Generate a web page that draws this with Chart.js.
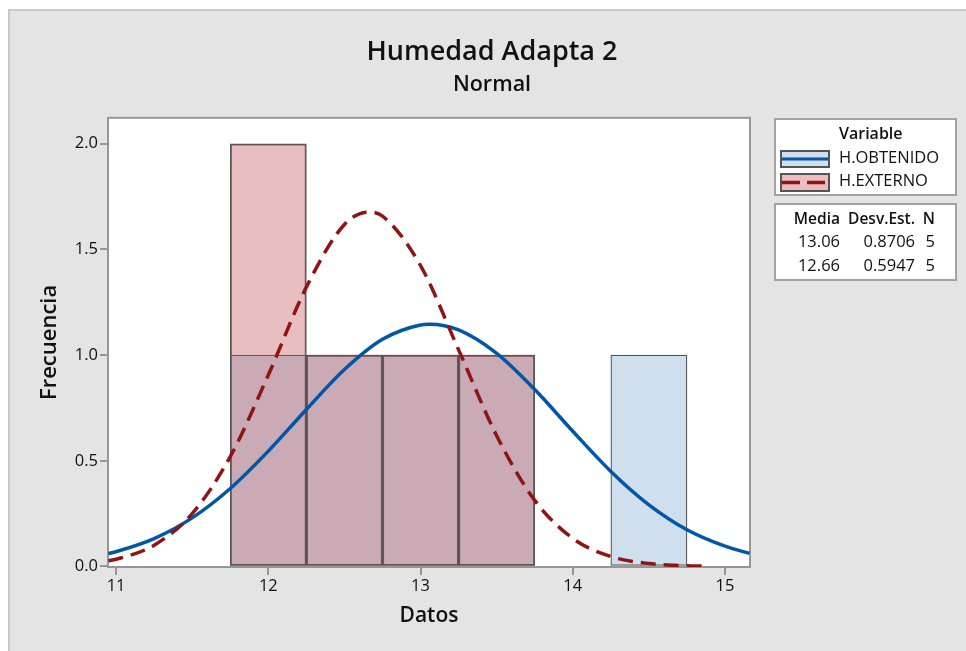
<!DOCTYPE html>
<html><head><meta charset="utf-8">
<script src="https://cdn.jsdelivr.net/npm/chart.js@4.4.1/dist/chart.umd.min.js"></script>
<style>html,body{margin:0;padding:0;background:#fff}canvas{display:block}</style>
</head><body>
<canvas id="c" width="966" height="651"></canvas>
<script>
// ---- data ----
const binCenters = [12, 12.5, 13, 13.5, 14, 14.5];
const obtenidoCounts = [1, 1, 1, 1, 0, 1];
const externoCounts = [2, 1, 1, 1, 0, 0];

const obtenidoCurveX = [10.95, 11.0, 11.25, 11.5, 11.75, 12.0, 12.25, 12.5, 12.75, 13.0, 13.06, 13.25, 13.5, 13.75, 14.0, 14.25, 14.5, 14.75, 15.0, 15.16];
const obtenidoCurveY = [0.061, 0.070, 0.132, 0.230, 0.369, 0.546, 0.743, 0.932, 1.075, 1.143, 1.146, 1.119, 1.008, 0.837, 0.640, 0.450, 0.292, 0.174, 0.096, 0.062];

const externoCurveX = [10.95, 11.0, 11.25, 11.5, 11.75, 12.0, 12.25, 12.5, 12.66, 12.75, 13.0, 13.25, 13.5, 13.75, 14.0, 14.25, 14.5, 14.75, 14.88];
const externoCurveY = [0.027, 0.034, 0.101, 0.250, 0.520, 0.906, 1.322, 1.618, 1.677, 1.658, 1.424, 1.025, 0.619, 0.313, 0.133, 0.047, 0.014, 0.0035, 0.0016];

const xTicks = [11, 12, 13, 14, 15];
const yTicks = [0, 0.5, 1.0, 1.5, 2.0];

const seriesNames = ['H.OBTENIDO', 'H.EXTERNO'];
const means = ['13.06', '12.66'];
const stdDevs = ['0.8706', '0.5947'];
const sampleSizes = ['5', '5'];

const FONT = "'Open Sans', 'Noto Sans', sans-serif";
const BLUE = '#0057a8';
const RED = '#8f1414';
const BLUE_FILL = '#cfdfee';
const RED_FILL = 'rgba(195,79,85,0.37)';
const BAR_EDGE = '#555555';
const AXIS_GRAY = '#969696';

Chart.defaults.font.family = FONT;
Chart.defaults.color = '#111';

const framePlugin = {
  id: 'frame',
  beforeDraw(chart) {
    const ctx = chart.ctx, W = chart.width, H = chart.height, a = chart.chartArea;
    ctx.save();
    ctx.fillStyle = '#ffffff'; ctx.fillRect(0, 0, W, H);
    ctx.fillStyle = '#c9c9c9'; ctx.fillRect(8, 9, W - 8, H - 9);
    ctx.fillStyle = '#e4e4e4'; ctx.fillRect(10, 11, W - 10, H - 11);
    ctx.fillStyle = '#ffffff'; ctx.fillRect(a.left, a.top, a.right - a.left, a.bottom - a.top);
    ctx.restore();
  },
  beforeDatasetsDraw(chart) {
    const ctx = chart.ctx, a = chart.chartArea;
    ctx.save();
    ctx.strokeStyle = AXIS_GRAY; ctx.lineWidth = 2;
    ctx.strokeRect(a.left, a.top, a.right - a.left, a.bottom - a.top);
    ctx.restore();
  },
  afterDraw(chart) {
    const ctx = chart.ctx;
    ctx.save();
    // legend box
    ctx.fillStyle = '#fff';
    ctx.fillRect(774, 118, 183, 78);
    ctx.strokeStyle = '#a3a3a3'; ctx.lineWidth = 2;
    ctx.strokeRect(775, 119, 181, 76);
    ctx.fillStyle = '#111';
    ctx.textBaseline = 'alphabetic';
    ctx.textAlign = 'left';
    ctx.font = "600 16px " + FONT;
    ctx.fillText('Variable', 839, 139);
    // swatch 1
    ctx.fillStyle = BLUE_FILL; ctx.fillRect(781, 151, 48, 16);
    ctx.strokeStyle = BAR_EDGE; ctx.lineWidth = 2; ctx.strokeRect(781, 151, 48, 16);
    ctx.strokeStyle = BLUE; ctx.lineWidth = 3;
    ctx.beginPath(); ctx.moveTo(782, 159); ctx.lineTo(828, 159); ctx.stroke();
    // swatch 2
    ctx.fillStyle = 'rgb(233,190,192)'; ctx.fillRect(781, 174, 48, 17);
    ctx.strokeStyle = BAR_EDGE; ctx.lineWidth = 2; ctx.strokeRect(781, 174, 48, 17);
    ctx.strokeStyle = RED; ctx.lineWidth = 3.5; ctx.setLineDash([18, 7]);
    ctx.beginPath(); ctx.moveTo(782, 182.5); ctx.lineTo(828, 182.5); ctx.stroke();
    ctx.setLineDash([]);
    ctx.fillStyle = '#111';
    ctx.font = "16.5px " + FONT;
    ctx.fillText(seriesNames[0], 839, 163);
    ctx.fillText(seriesNames[1], 839, 186);
    // stats box
    ctx.fillStyle = '#fff';
    ctx.fillRect(774, 203, 183, 78);
    ctx.strokeStyle = '#a3a3a3'; ctx.lineWidth = 2;
    ctx.strokeRect(775, 204, 181, 76);
    ctx.fillStyle = '#111';
    ctx.textAlign = 'right';
    ctx.font = "600 15.5px " + FONT;
    const cols = [840, 915, 935];
    ctx.fillText('Media', cols[0], 224);
    ctx.fillText('Desv.Est.', cols[1], 224);
    ctx.fillText('N', cols[2], 224);
    ctx.font = "16.5px " + FONT;
    const rows = [247, 271];
    for (let i = 0; i < means.length; i++) {
      ctx.fillText(means[i], cols[0], rows[i]);
      ctx.fillText(stdDevs[i], cols[1], rows[i]);
      ctx.fillText(sampleSizes[i], cols[2], rows[i]);
    }
    ctx.restore();
  }
};

const toPts = (xs, ys) => xs.map((x, i) => ({ x: x, y: ys[i] }));

new Chart(document.getElementById('c'), {
  type: 'bar',
  data: {
    datasets: [
      {
        type: 'line', label: seriesNames[1] + ' ajuste',
        data: toPts(externoCurveX, externoCurveY),
        borderColor: RED, borderWidth: 3.5, borderDash: [15, 8],
        pointRadius: 0, cubicInterpolationMode: 'monotone', fill: false, order: 0
      },
      {
        type: 'line', label: seriesNames[0] + ' ajuste',
        data: toPts(obtenidoCurveX, obtenidoCurveY),
        borderColor: BLUE, borderWidth: 3.5,
        pointRadius: 0, cubicInterpolationMode: 'monotone', fill: false, order: 1
      },
      {
        type: 'bar', label: seriesNames[1],
        data: toPts(binCenters, externoCounts),
        backgroundColor: RED_FILL, borderColor: BAR_EDGE, borderWidth: 1.25,
        borderSkipped: false, grouped: false, barPercentage: 1, categoryPercentage: 1, order: 2
      },
      {
        type: 'bar', label: seriesNames[0],
        data: toPts(binCenters, obtenidoCounts),
        backgroundColor: BLUE_FILL, borderColor: BAR_EDGE, borderWidth: 1.25,
        borderSkipped: false, grouped: false, barPercentage: 1, categoryPercentage: 1, order: 3
      }
    ]
  },
  options: {
    responsive: false,
    animation: false,
    devicePixelRatio: 1,
    layout: { padding: { left: 18, right: 0, top: 0, bottom: 0 } },
    plugins: {
      legend: { display: false },
      tooltip: { enabled: false },
      title: {
        display: true, text: 'Humedad Adapta 2', color: '#111',
        font: { size: 27, weight: '600', family: FONT },
        padding: { top: 36, bottom: 0 }
      },
      subtitle: {
        display: true, text: 'Normal', color: '#111',
        font: { size: 21.5, weight: '600', family: FONT },
        padding: { top: 4, bottom: 19.6 }
      }
    },
    scales: {
      x: {
        type: 'linear', min: 10.947, max: 15.164, offset: false,
        grid: { display: true, offset: false, drawOnChartArea: false, drawTicks: true, tickLength: 8, color: AXIS_GRAY, lineWidth: 2 },
        border: { display: false },
        afterBuildTicks: s => { s.ticks = xTicks.map(v => ({ value: v })); },
        afterFit: s => { s.height = 84; },
        ticks: { color: '#111', font: { size: 16.5 }, padding: 1, maxRotation: 0, callback: v => String(v) },
        title: { display: true, text: 'Datos', color: '#111', font: { size: 21, weight: '600' }, padding: { top: 0, bottom: 22 } }
      },
      y: {
        type: 'linear', min: -0.0024, max: 2.123,
        grid: { display: true, drawOnChartArea: false, drawTicks: true, tickLength: 8, color: AXIS_GRAY, lineWidth: 2 },
        border: { display: false },
        afterBuildTicks: s => { s.ticks = yTicks.map(v => ({ value: v })); },
        afterFit: s => { s.width = 90; },
        ticks: { color: '#111', font: { size: 16.5 }, padding: 2, callback: v => Number(v).toFixed(1) },
        title: { display: true, text: 'Frecuencia', color: '#111', font: { size: 22, weight: '600' }, padding: { top: 19, bottom: 0 } }
      },
      yRight: {
        type: 'linear', position: 'right', display: true,
        grid: { display: false }, border: { display: false },
        ticks: { display: false },
        afterFit: s => { s.width = 216; }
      }
    }
  },
  plugins: [framePlugin]
});
</script>
</body></html>
